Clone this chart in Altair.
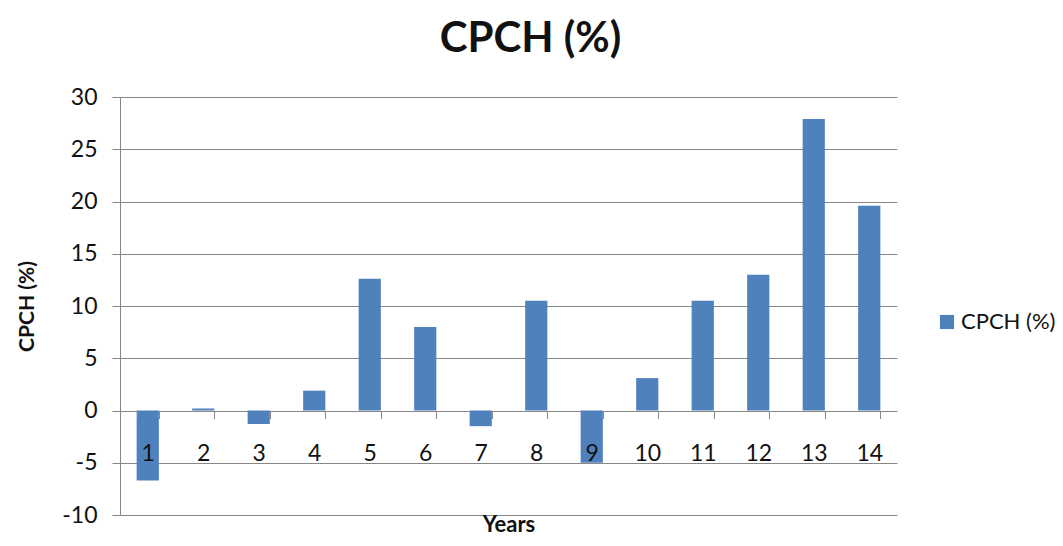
import altair as alt
import pandas as pd

years = [str(i) for i in range(1, 15)]
cpch = [-6.7, 0.2, -1.3, 1.9, 12.6, 8.0, -1.5, 10.5, -5.0, 3.1, 10.5, 13.0, 27.9, 19.6]
series = ["CPCH (%)"] * len(years)

df = pd.DataFrame({"Years": years, "CPCH": cpch, "series": series})

FONT = "Lato"
GRID = "#878787"
W, H = 777, 418
YMIN, YMAX = -10, 30
PAD_L, PAD_T = 112, 89

chart = alt.Chart(df).mark_bar(color="#4F81BD").encode(
    x=alt.X(
        "Years:O",
        sort=years,
        scale=alt.Scale(paddingInner=0.6, paddingOuter=0.3),
        axis=alt.Axis(
            title="Years",
            orient="bottom",
            offset=-H * (0 - YMIN) / (YMAX - YMIN),
            tickBand="extent",
            tickSize=8,
            tickColor=GRID,
            domain=False,
            zindex=1,
            labelAngle=0,
            labelFontSize=23,
            labelColor="#111111",
            labelPadding=24,
            titleFontSize=22,
            titleFontWeight="bold",
            titlePadding=49,
            titleColor="#111111",
        ),
    ),
    y=alt.Y(
        "CPCH:Q",
        scale=alt.Scale(domain=[YMIN, YMAX], nice=False),
        axis=alt.Axis(
            title="CPCH (%)",
            values=list(range(-10, 31, 5)),
            labelExpr="'' + datum.value",
            grid=True,
            gridColor=GRID,
            tickColor=GRID,
            tickSize=8,
            domainColor=GRID,
            labelFontSize=23,
            labelColor="#111111",
            labelPadding=15,
            titleFontSize=21,
            titleFontWeight="bold",
            titlePadding=24,
            titleColor="#111111",
        ),
    ),
    color=alt.Color(
        "series:N",
        scale=alt.Scale(range=["#4F81BD"]),
        legend=alt.Legend(
            title=None,
            orient="none",
            legendX=816,
            legendY=214,
            symbolType="square",
            symbolSize=200,
            symbolStrokeWidth=0,
            labelFontSize=22,
            labelColor="#111111",
            labelOffset=3,
        ),
    ),
).properties(
    width=W,
    height=H,
    autosize="none",
    title=alt.Title(
        "CPCH (%)",
        fontSize=42,
        fontWeight="bold",
        font=FONT,
        anchor="middle",
        frame="group",
        dx=22,
        color="#111111",
        offset=25,
    ),
    padding={"left": PAD_L, "top": PAD_T, "right": 1047 - PAD_L - W, "bottom": 530 - PAD_T - H},
).configure(
    font=FONT,
).configure_view(
    stroke=None,
).configure_axis(
    labelFont=FONT,
    titleFont=FONT,
).configure_legend(
    labelFont=FONT,
)

chart.save("out.html", embed_options={"renderer": "svg", "actions": False})
